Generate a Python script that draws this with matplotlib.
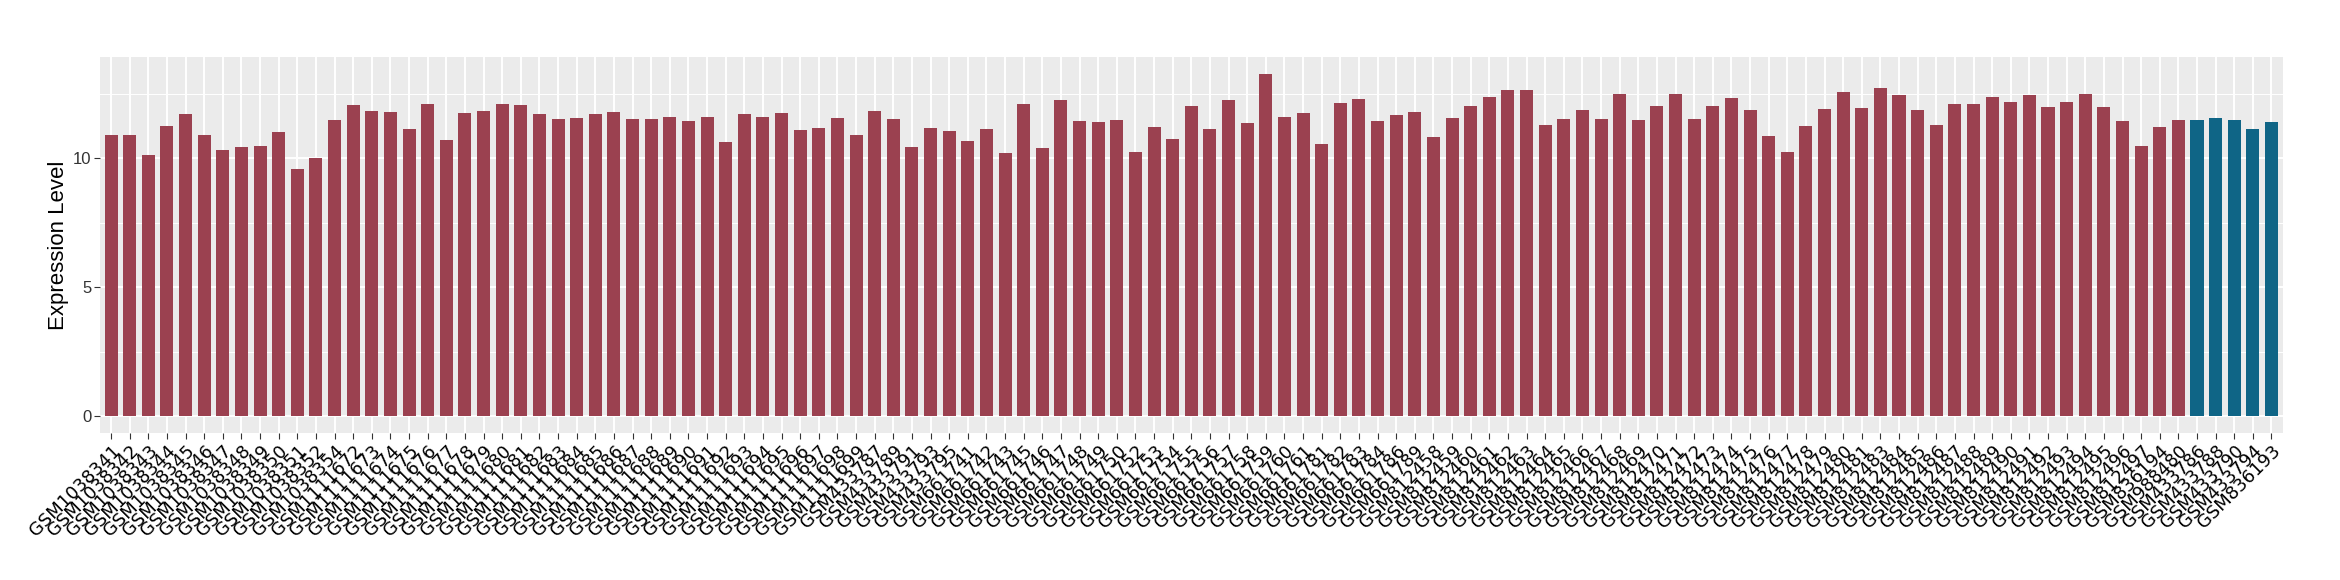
import matplotlib
matplotlib.use("Agg")
import matplotlib.pyplot as plt
from matplotlib.ticker import MultipleLocator

# sample labels (in plotting order)
samples = (
    ["GSM10383%d" % n for n in [41, 42, 43, 44, 45, 46, 47, 48, 49, 50, 51, 52, 54]]
    + ["GSM1111%d" % n for n in range(672, 700)]
    + ["GSM4337%d" % n for n in [87, 89, 91, 93, 95]]
    + ["GSM661%d" % n for n in [741, 742, 743, 745, 746, 747, 748, 749, 750, 752, 753,
                                754, 755, 756, 757, 758, 759, 760, 761, 781, 782, 783,
                                784, 786, 789]]
    + ["GSM8124%d" % n for n in list(range(58, 82)) + list(range(83, 98))]
    + ["GSM836194", "GSM988480"]
    + ["GSM433786", "GSM433788", "GSM433790", "GSM433794", "GSM836193"]
)

expression = [
    10.91, 10.91, 10.13, 11.26, 11.72, 10.91, 10.32, 10.44, 10.48, 11.02,
    9.59, 10.01, 11.49, 12.07, 11.84, 11.80, 11.14, 12.11, 10.71, 11.76,
    11.84, 12.11, 12.07, 11.72, 11.53, 11.57, 11.72, 11.80, 11.53, 11.53,
    11.61, 11.45, 11.61, 10.63, 11.72, 11.61, 11.76, 11.10, 11.18, 11.57,
    10.91, 11.84, 11.53, 10.44, 11.18, 11.06, 10.67, 11.14, 10.21, 12.11,
    10.40, 12.27, 11.45, 11.41, 11.49, 10.25, 11.22, 10.75, 12.03, 11.14,
    12.27, 11.37, 13.28, 11.61, 11.76, 10.56, 12.15, 12.31, 11.45, 11.68,
    11.80, 10.83, 11.57, 12.03, 12.38, 12.66, 12.66, 11.30, 11.53, 11.88,
    11.53, 12.50, 11.49, 12.03, 12.50, 11.53, 12.03, 12.34, 11.88, 10.87,
    10.25, 11.26, 11.92, 12.58, 11.96, 12.73, 12.46, 11.88, 11.30, 12.11,
    12.10, 12.40, 12.20, 12.45, 12.00, 12.20, 12.50, 12.00, 11.45, 10.50,
    11.20, 11.50,
    11.50, 11.55, 11.50, 11.15, 11.40,
]

groups = ["G1"] * 112 + ["G2"] * 5
group_colors = {"G1": "#9B4150", "G2": "#0F6586"}

fig = plt.figure(figsize=(23.4, 5.8), dpi=100)
ax = fig.add_axes([0.0427, 0.2529, 0.9328, 0.6493])

x = list(range(len(samples)))
ax.bar(x, expression, width=0.7, color=[group_colors[g] for g in groups], zorder=3)

# ggplot-like panel
ax.set_facecolor("#EBEBEB")
for s in ax.spines.values():
    s.set_visible(False)
ax.set_xlim(-0.6, len(samples) - 0.4)
top = max(expression) * 1.05
ax.set_ylim(-max(expression) * 0.05, top)
ax.yaxis.set_major_locator(MultipleLocator(5))
ax.yaxis.set_minor_locator(MultipleLocator(2.5))
ax.grid(which="major", color="white", linewidth=1.4, zorder=0)
ax.grid(which="minor", axis="y", color="white", linewidth=0.7, zorder=0)
ax.set_axisbelow(True)

ax.set_xticks(x)
ax.set_xticklabels(samples, rotation=45, ha="right", rotation_mode="anchor",
                   fontsize=13, family="DejaVu Sans", color="black")
ax.tick_params(axis="x", length=4, width=0.8, color="#333333", pad=2)
ax.tick_params(axis="y", which="major", length=4, width=0.8, color="#333333",
               labelsize=12, labelcolor="#333333", pad=2)
ax.tick_params(axis="y", which="minor", length=0)
for lab in ax.get_yticklabels():
    lab.set_family("Liberation Sans")

ax.set_ylabel("Expression Level", fontsize=16, family="Liberation Sans", labelpad=3)

fig.savefig("out.png", dpi=100)
